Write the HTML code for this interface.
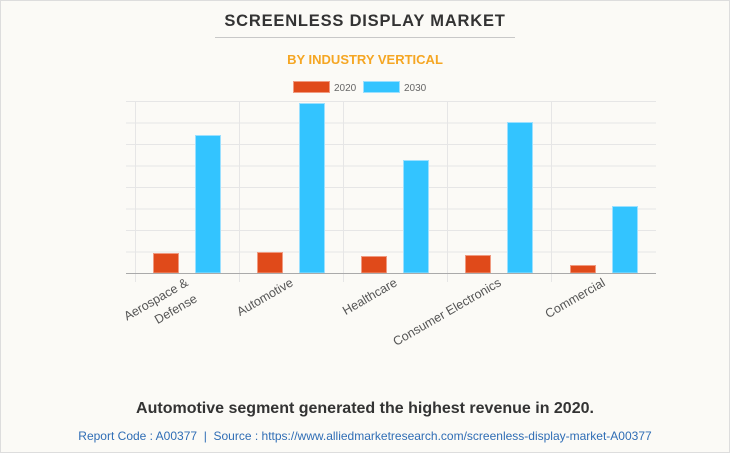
<!DOCTYPE html>
<html><head><meta charset="utf-8"><style>
html,body{margin:0;padding:0;}
body{width:730px;height:453px;background:#fbfaf6;overflow:hidden;font-family:"Liberation Sans",Arial,sans-serif;}
</style></head><body>
<svg width="730" height="453" xmlns="http://www.w3.org/2000/svg" style="position:absolute;left:0;top:0">
<rect x="0.5" y="0.5" width="729" height="452" fill="#fbfaf6" stroke="#dddddd"/>
<text x="365" y="26" text-anchor="middle" font-family="Liberation Sans" font-weight="bold" font-size="16.5" letter-spacing="0.8" fill="#333">SCREENLESS DISPLAY MARKET</text>
<line x1="215" y1="37.5" x2="515" y2="37.5" stroke="#c8c8c8" stroke-width="1"/>
<text x="365" y="64" text-anchor="middle" font-family="Liberation Sans" font-weight="bold" font-size="13" fill="#f5a623">BY INDUSTRY VERTICAL</text>
<rect x="293.5" y="81.5" width="36" height="11" fill="#e04a1a" stroke="#f09a80"/>
<text x="334" y="91" font-family="Liberation Sans" font-size="10" fill="#666">2020</text>
<rect x="363.5" y="81.5" width="36" height="11" fill="#33c4ff" stroke="#9be0ff"/>
<text x="404" y="91" font-family="Liberation Sans" font-size="10" fill="#666">2030</text>
<g stroke="#e6e6e6" stroke-width="1">
<line x1="126" y1="101.5" x2="656" y2="101.5"/>
<line x1="126" y1="123" x2="656" y2="123"/>
<line x1="126" y1="144.5" x2="656" y2="144.5"/>
<line x1="126" y1="166" x2="656" y2="166"/>
<line x1="126" y1="187.5" x2="656" y2="187.5"/>
<line x1="126" y1="209" x2="656" y2="209"/>
<line x1="126" y1="230.5" x2="656" y2="230.5"/>
<line x1="126" y1="252" x2="656" y2="252"/>
<line x1="135.5" y1="101" x2="135.5" y2="282"/>
<line x1="239.5" y1="101" x2="239.5" y2="282"/>
<line x1="343.5" y1="101" x2="343.5" y2="282"/>
<line x1="447.5" y1="101" x2="447.5" y2="282"/>
<line x1="551.5" y1="101" x2="551.5" y2="282"/>
</g>
<g fill="#e04a1a" stroke="#f09a80" stroke-width="1">
<rect x="153.5" y="253.5" width="25" height="19.5"/>
<rect x="257.5" y="252.5" width="25" height="20.5"/>
<rect x="361.5" y="256.5" width="25" height="16.5"/>
<rect x="465.5" y="255.5" width="25" height="17.5"/>
<rect x="570.5" y="265.5" width="25" height="7.5"/>
</g>
<g fill="#33c4ff" stroke="#9be0ff" stroke-width="1">
<rect x="195.5" y="135.5" width="25" height="137.5"/>
<rect x="299.5" y="103.5" width="25" height="169.5"/>
<rect x="403.5" y="160.5" width="25" height="112.5"/>
<rect x="507.5" y="122.5" width="25" height="150.5"/>
<rect x="612.5" y="206.5" width="25" height="66.5"/>
</g>
<line x1="126" y1="273.5" x2="656" y2="273.5" stroke="#aaaaaa" stroke-width="1"/>
<g font-family="Liberation Sans" font-size="12.5" fill="#555" text-anchor="end">
<text transform="translate(189,285) rotate(-30)">Aerospace &amp;</text>
<text transform="translate(198,301) rotate(-30)">Defense</text>
<text transform="translate(294,285) rotate(-30)">Automotive</text>
<text transform="translate(398,285) rotate(-30)">Healthcare</text>
<text transform="translate(502,285) rotate(-30)">Consumer Electronics</text>
<text transform="translate(606,285) rotate(-30)">Commercial</text>
</g>
<text x="365" y="413" text-anchor="middle" font-family="Liberation Sans" font-weight="bold" font-size="16" fill="#333">Automotive segment generated the highest revenue in 2020.</text>
<text x="365" y="440" text-anchor="middle" font-family="Liberation Sans" font-size="12" fill="#2f6db5" xml:space="preserve">Report Code : A00377  |  Source : https://www.alliedmarketresearch.com/screenless-display-market-A00377</text>
</svg>
</body></html>
